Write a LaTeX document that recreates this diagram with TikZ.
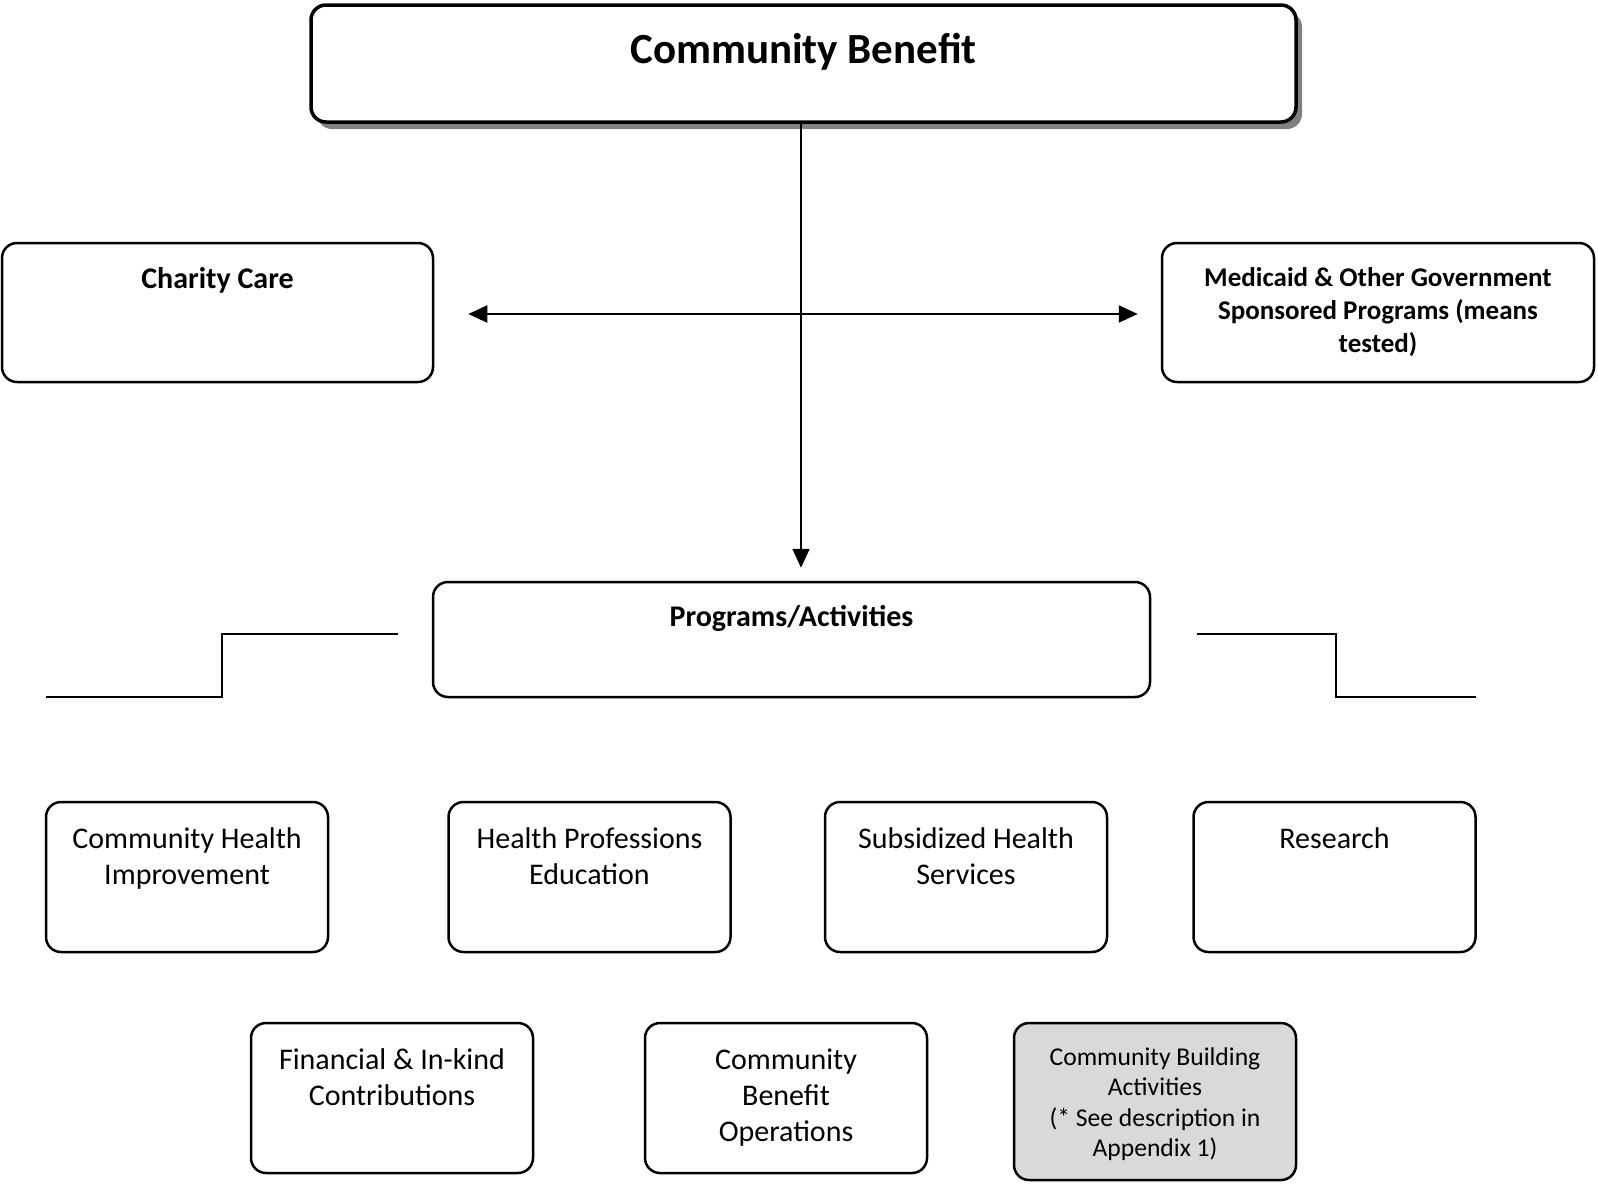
\documentclass[tikz,border=0pt]{standalone}
\usepackage{fontspec}
\setmainfont{Carlito}
\usepackage{tikz}
\usetikzlibrary{positioning,arrows.meta,shadows}

\begin{document}
\begin{tikzpicture}[x=1pt, y=-1pt, node distance = 0mm,
  box/.style = {draw, line width=2.5pt, rounded corners=15pt, inner sep=0pt},
  headtxt/.style = {font=\fontsize{43}{50}\selectfont\bfseries, inner sep=0pt},
  boldtxt/.style = {font=\fontsize{30}{33}\selectfont\bfseries, align=center, inner sep=0pt},
  plaintxt/.style = {font=\fontsize{30}{36}\selectfont, align=center, inner sep=0pt},
  smalltxt/.style = {font=\fontsize{25.6}{30.5}\selectfont, align=center, inner sep=0pt},
  link/.style = {line width=2pt, -{Triangle[length=19pt,width=17pt]}},
  stairs/.style = {line width=2.2pt}]
\useasboundingbox (0,0) rectangle (1598,1184);

\node (top) [box, line width=3.5pt, minimum width=985pt, minimum height=117pt,
  fill=white, drop shadow={shadow xshift=6pt, shadow yshift=-7pt, fill=black!50, opacity=1}] at (803.5,63.5) {};
\node (topT) [headtxt, below=30pt of top.north] {Community Benefit};

\node (charity) [box, minimum width=431pt, minimum height=139pt] at (217.5,312.5) {};
\node (charityT) [boldtxt, below=25.5pt of charity.north] {Charity Care};

\node (medicaid) [box, minimum width=432pt, minimum height=139pt] at (1378,312.5) {};
\node (medicaidT) [boldtxt, font=\fontsize{27}{33}\selectfont\bfseries, below=26pt of medicaid.north] {Medicaid \& Other Government\\Sponsored Programs (means\\tested)};

\node (programs) [box, minimum width=717pt, minimum height=115pt] at (791.5,639.5) {};
\node (programsT) [boldtxt, below=24.5pt of programs.north] {Programs/Activities};

\node (chi) [box, minimum width=282pt, minimum height=150pt] at (187,877) {};
\node (chiT) [plaintxt, below=27pt of chi.north] {Community Health\\Improvement};
\node (hpe) [box, minimum width=282pt, minimum height=150pt] at (589.5,877) {};
\node (hpeT) [plaintxt, below=27pt of hpe.north] {Health Professions\\Education};
\node (shs) [box, minimum width=282pt, minimum height=150pt] at (966,877) {};
\node (shsT) [plaintxt, below=27pt of shs.north] {Subsidized Health\\Services};
\node (research) [box, minimum width=282pt, minimum height=150pt] at (1334.5,877) {};
\node (researchT) [plaintxt, below=27pt of research.north] {Research};

\node (fic) [box, minimum width=282pt, minimum height=150pt] at (392,1098) {};
\node (ficT) [plaintxt, below=27pt of fic.north] {Financial \& In-kind\\Contributions};
\node (cbo) [box, minimum width=282pt, minimum height=150pt] at (786,1098) {};
\node (cboT) [plaintxt, below=27pt of cbo.north] {Community\\Benefit\\Operations};
\node (cba) [box, fill=black!15, minimum width=282pt, minimum height=157pt] at (1155,1101.5) {};
\node (cbaT) [smalltxt, below=25.5pt of cba.north] {Community Building\\Activities\\(* See description in\\Appendix 1)};

\draw[link] ([xshift=-2.5pt]top.south) -- ([xshift=-2.5pt]top.south |- programs.north) [shorten >=13pt];
\draw[link, {Triangle[length=19pt,width=17pt]}-{Triangle[length=19pt,width=17pt]}, shorten <=34pt, shorten >=23pt]
  ([yshift=-1.5pt]charity.east) -- ([yshift=-1.5pt]medicaid.west);

\draw[stairs] (46,697) -- (222,697) -- (222,634) -- (398,634);
\draw[stairs] (1197,634) -- (1336,634) -- (1336,697) -- (1476,697);
\end{tikzpicture}
\end{document}
